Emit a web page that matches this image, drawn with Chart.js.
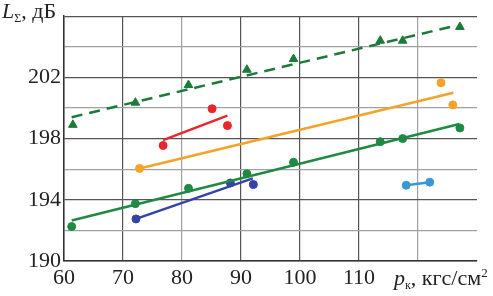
<!DOCTYPE html>
<html>
<head>
<meta charset="utf-8">
<script src="https://cdn.jsdelivr.net/npm/chart.js@4"></script>
<style>
  html, body { margin: 0; padding: 0; background: #fff; }
  #wrap { width: 493px; height: 296px; position: relative; }
  .ttl { position: absolute; font-family: 'Liberation Serif', 'Times New Roman', serif; font-size: 22px; line-height: 22px;
         color: #222; white-space: nowrap; }
  .ttl .sb { font-size: 12px; position: relative; top: 4px; }
  .ttl .sp { font-size: 13px; position: relative; top: -8px; }
</style>
</head>
<body>
<div id="wrap">
  <canvas id="chart"></canvas>
  <div class="ttl" style="left:2px; top:0px;"><i>L</i><span class="sb">Σ</span>, дБ</div>
  <div class="ttl" style="left:394px; top:267px;"><i>p</i><span class="sb">к</span>, кгс/см<span class="sp">2</span></div>
</div>
<script>
// tick labels shown on the axes
const xTickLabels = [60, 70, 80, 90, 100, 110];
const yTickLabels = [190, 194, 198, 202];

// triangles + dashed trend
const triX = [61.5, 72.1, 81.1, 91.0, 98.9, 113.6, 117.4, 127.1];
const triY = [198.9, 200.35, 201.5, 202.5, 203.2, 204.4, 204.4, 205.3];
const triLineX = [61.3, 126.0];
const triLineY = [199.4, 205.35];

// red
const redX = [76.8, 85.1, 87.7];
const redY = [197.55, 199.95, 198.85];
const redLineX = [76.8, 87.7];
const redLineY = [197.9, 199.5];

// orange
const orangeX = [72.8, 123.9, 125.9];
const orangeY = [196.05, 201.65, 200.2];
const orangeLineX = [72.8, 126.0];
const orangeLineY = [196.05, 201.0];

// green circles
const greenX = [61.3, 72.1, 81.1, 91.0, 98.9, 113.6, 117.4, 127.1];
const greenY = [192.25, 193.75, 194.75, 195.7, 196.45, 197.8, 198.0, 198.7];
const greenLineX = [61.3, 127.0];
const greenLineY = [192.65, 198.95];

// dark blue
const blueX = [72.2, 88.2, 92.1];
const blueY = [192.75, 195.1, 195.0];
const blueLineX = [72.2, 92.0];
const blueLineY = [192.75, 195.4];

// light blue
const lblueX = [118.0, 122.0];
const lblueY = [194.95, 195.15];

function pts(xs, ys) {
    return xs.map((x, i) => ({ x: x, y: ys[i] }));
}

function lineSet(xs, ys, color, dash) {
    return {
        data: pts(xs, ys),
        showLine: true,
        borderColor: color,
        borderWidth: 2.5,
        borderDash: dash || [],
        pointRadius: 0,
        fill: false
    };
}

function pointSet(xs, ys, color, style) {
    return {
        data: pts(xs, ys),
        showLine: false,
        backgroundColor: color,
        borderColor: color,
        pointStyle: style || 'circle',
        pointRadius: style === 'triangle' ? 5 : 4,
        pointBorderWidth: 1
    };
}

const cDark = '#1c7a3b';
const cGreen = '#1f8a42';
const cRed = '#e8262b';
const cOrange = '#f4a229';
const cBlue = '#3443a6';
const cLBlue = '#3a97d6';

const serif = "'Liberation Serif', 'Times New Roman', serif";

function drawChart() {
    new Chart(document.getElementById('chart'), {
        type: 'scatter',
        data: {
            datasets: [
                lineSet(triLineX, triLineY, cDark, [11, 7]),
                pointSet(triX, triY, cDark, 'triangle'),
                lineSet(redLineX, redLineY, cRed),
                pointSet(redX, redY, cRed),
                lineSet(orangeLineX, orangeLineY, cOrange),
                pointSet(orangeX, orangeY, cOrange),
                lineSet(greenLineX, greenLineY, cGreen),
                pointSet(greenX, greenY, cGreen),
                lineSet(blueLineX, blueLineY, cBlue),
                pointSet(blueX, blueY, cBlue),
                lineSet(lblueX, lblueY, cLBlue),
                pointSet(lblueX, lblueY, cLBlue)
            ]
        },
        options: {
            responsive: true,
            maintainAspectRatio: false,
            animation: false,
            layout: { padding: { top: 11, right: 16, left: 0, bottom: 0 } },
            plugins: {
                legend: { display: false },
                tooltip: { enabled: false }
            },
            scales: {
                x: {
                    type: 'linear',
                    min: 60,
                    max: 130,
                    afterFit: s => { s.height = 35; },
                    ticks: {
                        stepSize: 10,
                        padding: 4,
                        color: '#222',
                        font: { family: serif, size: 22 },
                        callback: v => xTickLabels.includes(v) ? String(v) : ''
                    },
                    grid: {
                        drawTicks: false,
                        color: c => c.tick.value === 130 ? 'rgba(0,0,0,0)' :
                            (c.tick.value === 80 || c.tick.value === 120 ? '#a0a0a0' : '#555'),
                        lineWidth: 1.2
                    },
                    border: { color: '#333', width: 1.5 }
                },
                y: {
                    min: 190,
                    max: 206,
                    afterFit: s => { s.width = 64; },
                    ticks: {
                        stepSize: 2,
                        padding: 3,
                        color: '#222',
                        font: { family: serif, size: 22 },
                        callback: v => yTickLabels.includes(v) ? String(v) : ''
                    },
                    grid: {
                        drawTicks: false,
                        color: c => (c.tick.value - 190) % 4 === 0 ? '#555' : '#a0a0a0',
                        lineWidth: 1.2
                    },
                    border: { color: '#333', width: 1.5 }
                }
            }
        }
    });
}

// give the serif face time to become available before drawing
window.addEventListener('load', () => setTimeout(drawChart, 250));
</script>
</body>
</html>
